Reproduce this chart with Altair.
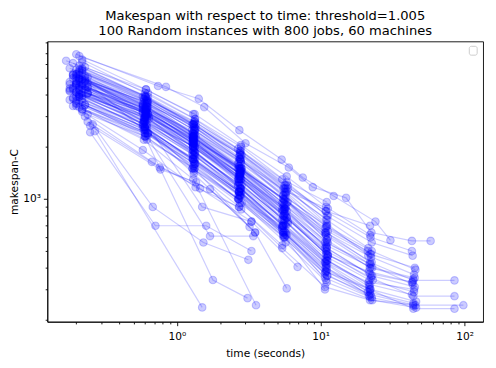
import altair as alt
import pandas as pd

TITLE = ["Makespan with respect to time: threshold=1.005",
         "100 Random instances with 800 jobs, 60 machines"]
X_TICKS = [0.2, 0.3, 0.4, 0.5, 0.6, 0.7, 0.8, 0.9, 1, 2, 3, 4, 5, 6, 7, 8, 9,
           10, 20, 30, 40, 50, 60, 70, 80, 90, 100]
Y_TICKS = [200, 300, 400, 500, 600, 700, 800, 900, 1000,
           2000, 3000, 4000, 5000, 6000, 7000, 8000]

TIMES = [
    [0.20, 0.74, 1.42, 2.72, 5.35, 7.5, 12.3, 24.0, 30.5],
    [0.21, 0.84, 1.55, 3.0, 6.0, 8.8, 15.0, 22.5, 43.0, 58.0],
    [0.22, 0.61, 1.31, 2.74, 5.6, 10.9, 22.0, 44.0, 85.0],
    [0.19, 0.60, 1.30, 2.70, 5.5, 11.0, 22.4, 44.0, 85.0],
    [0.21, 0.62, 1.33, 2.78, 5.7, 10.8, 21.8, 44.0, 85.0],
    [0.20, 0.59, 1.29, 2.76, 5.5, 11.1, 22.2, 45.5, 98.0],
    [0.23, 0.63, 1.34, 2.80, 5.8, 11.0, 22.6, 43.5],
    [0.18, 0.58, 1.28, 2.68, 5.4, 10.7, 21.5, 44.5],
    [0.21, 0.60, 1.31, 2.72, 5.6, 11.2, 22.0, 45.0],
    [0.24, 0.61, 1.30, 2.66, 5.5, 10.9, 21.2, 44.0],
    [0.20, 0.62, 1.32, 2.82, 5.7, 11.0, 22.8, 46.0],
    [0.22, 0.59, 1.33, 2.74, 5.9, 10.8, 22.2, 43.0],
    [0.19, 0.63, 1.29, 2.70, 5.5, 11.1, 21.8, 44.5],
    [0.21, 0.60, 1.35, 2.78, 5.6, 11.0, 22.4, 45.0],
    [0.23, 0.61, 1.31, 2.72, 5.4, 10.7, 22.0, 44.0],
    [0.20, 0.58, 1.30, 2.68, 5.8, 11.2, 21.6, 43.5],
    [0.22, 0.62, 1.28, 2.80, 5.5, 10.9, 22.6, 45.5],
    [0.19, 0.60, 1.32, 2.74, 5.7, 11.0, 21.9, 44.0],
    [0.21, 0.64, 1.34, 2.76, 5.6, 10.8, 22.2, 46.0],
    [0.24, 0.59, 1.30, 2.70, 5.5, 11.1, 22.0, 43.0],
    [0.20, 0.61, 1.31, 2.82, 5.9, 11.0, 21.4, 44.5],
    [0.18, 0.60, 1.29, 2.72, 5.4, 10.9, 22.8, 45.0],
    [0.22, 0.62, 1.33, 2.66, 5.6, 10.7, 22.0, 44.0],
    [0.21, 0.58, 1.30, 2.76, 5.7, 11.2, 21.8, 43.5],
    [0.20, 0.63, 1.32, 2.74, 5.5, 11.0, 22.4],
    [0.22, 0.60, 1.30, 2.70, 5.6, 10.8, 21.6],
    [0.19, 0.61, 1.34, 2.78, 5.7, 11.1, 22.0],
    [0.21, 0.59, 1.29, 2.72, 5.4, 10.9, 22.6],
    [0.23, 0.62, 1.31, 2.80, 5.8, 11.0, 21.8],
    [0.20, 0.60, 1.33, 2.68, 5.5, 10.7, 22.2],
    [0.18, 0.58, 1.30, 2.76, 5.6, 11.2, 23.0],
    [0.22, 0.61, 1.28, 2.74, 5.7, 10.9, 21.4],
    [0.21, 0.63, 1.32, 2.70, 5.5, 11.0, 22.0],
    [0.24, 0.60, 1.31, 2.82, 5.9, 10.8, 22.4],
    [0.19, 0.62, 1.35, 2.72, 5.6, 11.1, 21.8],
    [0.20, 0.59, 1.30, 2.66, 5.4, 11.0, 22.6],
    [0.22, 0.61, 1.33, 2.78, 5.8, 10.9, 22.0],
    [0.21, 0.60, 1.29, 2.74, 5.5, 10.7, 21.6],
    [0.23, 0.64, 1.31, 2.70, 5.7, 11.2, 22.2],
    [0.20, 0.58, 1.32, 2.80, 5.6, 11.0, 22.8],
    [0.18, 0.62, 1.30, 2.72, 5.5, 10.8, 21.2],
    [0.21, 0.60, 1.31, 2.76, 5.6, 10.9, 22.0],
    [0.20, 0.61, 1.30, 2.74, 5.6, 11.0],
    [0.22, 0.59, 1.32, 2.70, 5.5, 10.8],
    [0.19, 0.62, 1.34, 2.78, 5.7, 11.1],
    [0.21, 0.60, 1.29, 2.72, 5.4, 10.9],
    [0.23, 0.63, 1.31, 2.80, 5.8, 11.2],
    [0.20, 0.58, 1.33, 2.66, 5.5, 10.7],
    [0.18, 0.61, 1.30, 2.76, 5.6, 11.0],
    [0.22, 0.60, 1.32, 2.74, 5.7, 10.9],
    [0.21, 0.62, 1.35, 2.70, 5.5, 11.1],
    [0.24, 0.59, 1.28, 2.82, 5.9, 10.8],
    [0.20, 0.61, 1.31, 2.72, 5.4, 11.0],
    [0.19, 0.63, 1.30, 2.68, 5.6, 10.7],
    [0.22, 0.60, 1.33, 2.78, 5.7, 11.2],
    [0.21, 0.58, 1.29, 2.74, 5.5, 10.9],
    [0.23, 0.62, 1.32, 2.70, 5.8, 11.0],
    [0.20, 0.61, 1.30, 2.76, 5.6, 10.8],
    [0.18, 0.60, 1.34, 2.80, 5.5, 11.1],
    [0.22, 0.59, 1.31, 2.72, 5.7, 10.9],
    [0.21, 0.63, 1.33, 2.66, 5.4, 11.0],
    [0.20, 0.60, 1.30, 2.74, 5.6, 10.7],
    [0.24, 0.62, 1.29, 2.78, 5.8, 11.2],
    [0.20, 0.61, 1.31, 2.72, 5.6],
    [0.22, 0.59, 1.30, 2.76, 5.5],
    [0.19, 0.62, 1.33, 2.70, 5.7],
    [0.21, 0.60, 1.29, 2.80, 5.4],
    [0.23, 0.58, 1.32, 2.74, 5.8],
    [0.20, 0.63, 1.34, 2.68, 5.5],
    [0.18, 0.61, 1.30, 2.78, 5.6],
    [0.22, 0.60, 1.31, 2.72, 5.7],
    [0.21, 0.62, 1.28, 2.66, 5.5],
    [0.24, 0.59, 1.33, 2.76, 5.9],
    [0.20, 0.61, 1.30, 2.82, 5.6],
    [0.19, 0.60, 1.32, 2.70, 5.4],
    [0.22, 0.63, 1.35, 2.74, 5.7],
    [0.21, 0.58, 1.29, 2.78, 5.5],
    [0.26, 0.68, 1.53, 3.14],
    [0.25, 0.71, 1.60, 3.3],
    [0.27, 1.50],
    [0.24, 0.60, 1.78, 3.1],
    [0.21, 0.62, 1.50, 3.3],
    [0.20, 0.60, 1.70, 3.4],
    [0.22, 0.59, 1.30, 3.55],
    [0.23, 0.61, 1.32, 3.2],
    [0.21, 0.58, 1.31, 3.5],
    [0.22, 0.58, 1.35, 2.70, 5.4],
    [0.23, 0.67, 1.45, 3.3, 6.9],
    [0.24, 0.76, 1.70, 3.5, 5.8],
    [0.25, 0.77, 1.36, 2.8],
    [0.20, 0.61, 1.31, 2.74],
    [0.22, 0.60, 1.29, 2.70],
    [0.19, 0.62, 1.33, 2.78],
    [0.21, 0.59, 1.30, 2.66],
    [0.23, 0.63, 1.32, 2.80],
    [0.20, 0.60, 1.34, 2.72],
    [0.17, 0.61, 1.30],
    [0.22, 0.58, 1.31],
    [0.21, 0.62, 1.28, 2.76],
    [0.24, 0.60, 1.33, 2.74, 5.5, 10.9, 22.0, 43.0],
]

MAKESPANS = [
    [6870, 4500, 3800, 2500, 1690, 1330, 1040, 740, 577],
    [6700, 4450, 3400, 2100, 1520, 1170, 1015, 640, 572, 572],
    [4900, 3500, 2700, 1800, 1100, 640, 430, 338, 338],
    [4300, 3300, 2200, 1300, 800, 480, 350, 274, 274],
    [5200, 2900, 1900, 1150, 640, 400, 300, 232, 232],
    [3900, 2600, 1700, 1050, 620, 360, 280, 243, 243],
    [5800, 4100, 2900, 2000, 1250, 800, 560, 470],
    [4600, 2700, 1500, 1000, 700, 430, 330, 300],
    [5000, 3600, 2400, 1500, 1000, 650, 480, 400],
    [4100, 3000, 1900, 1200, 700, 420, 290, 250],
    [3700, 2400, 1600, 950, 560, 330, 260, 235],
    [5500, 3800, 2800, 1900, 1200, 850, 600, 500],
    [4400, 3100, 2100, 1250, 760, 460, 340, 290],
    [4800, 3400, 2300, 1450, 880, 520, 360, 310],
    [3500, 2300, 1450, 900, 520, 310, 260, 245],
    [5300, 3200, 2000, 1300, 780, 470, 380, 330],
    [4500, 3300, 2500, 1600, 1050, 700, 500, 390],
    [6100, 3900, 2600, 1700, 1000, 580, 400, 345],
    [4000, 2900, 1800, 1100, 650, 380, 300, 255],
    [4700, 2500, 1700, 1100, 720, 440, 320, 280],
    [5600, 3700, 2600, 1800, 1150, 720, 470, 365],
    [4200, 3000, 2200, 1400, 850, 540, 400, 350],
    [3300, 2200, 1500, 1000, 600, 350, 270, 240],
    [4900, 3500, 2300, 1450, 900, 600, 420, 320],
    [5100, 3600, 2500, 1700, 1050, 690, 480],
    [4600, 3100, 2000, 1250, 750, 450, 320],
    [3800, 2700, 1850, 1150, 700, 420, 300],
    [5400, 3700, 2400, 1550, 950, 620, 430],
    [4300, 2600, 1650, 1050, 620, 380, 280],
    [4000, 2800, 2000, 1350, 900, 560, 420],
    [4750, 3400, 2300, 1400, 820, 480, 340],
    [5700, 3900, 2700, 1850, 1150, 760, 520],
    [3600, 2400, 1550, 1000, 640, 390, 290],
    [4450, 3200, 2200, 1500, 960, 640, 460],
    [5000, 3300, 2100, 1300, 760, 440, 310],
    [4150, 2900, 1900, 1200, 700, 400, 270],
    [6400, 4300, 3100, 2050, 1350, 900, 620],
    [3400, 2300, 1500, 950, 600, 370, 275],
    [4850, 3000, 2100, 1400, 880, 560, 400],
    [5250, 3550, 2350, 1500, 880, 520, 360],
    [4350, 3150, 2250, 1500, 1000, 680, 500],
    [5900, 3950, 2750, 1850, 1200, 850, 700],
    [4700, 3300, 2300, 1500, 930, 560],
    [4100, 2850, 1800, 1100, 640, 380],
    [5300, 3700, 2600, 1700, 1100, 700],
    [3900, 2600, 1700, 1100, 680, 410],
    [4500, 3100, 2050, 1300, 780, 470],
    [5000, 3450, 2400, 1600, 1000, 640],
    [4250, 3050, 2100, 1350, 820, 500],
    [3650, 2500, 1650, 1050, 620, 340],
    [5500, 3800, 2700, 1750, 1150, 760],
    [4400, 2800, 1850, 1200, 720, 430],
    [4800, 3350, 2250, 1450, 880, 530],
    [3450, 2350, 1550, 1000, 600, 300],
    [6200, 4100, 2900, 1900, 1200, 800],
    [4050, 2750, 1800, 1150, 700, 440],
    [5150, 3500, 2350, 1550, 950, 580],
    [4600, 3200, 2250, 1500, 980, 620],
    [3750, 2550, 1700, 1100, 650, 360],
    [4950, 3300, 2150, 1350, 800, 480],
    [5600, 3900, 2800, 1950, 1300, 960],
    [4150, 2950, 2050, 1350, 860, 520],
    [5050, 3400, 2400, 1650, 1100, 880],
    [4500, 3100, 2100, 1350, 800],
    [3950, 2700, 1800, 1150, 700],
    [5200, 3600, 2500, 1650, 1050],
    [4250, 3000, 2000, 1300, 760],
    [4800, 3300, 2200, 1400, 850],
    [3550, 2400, 1600, 1050, 620],
    [5700, 3900, 2700, 1800, 1150],
    [4400, 2900, 1900, 1200, 720],
    [4950, 3400, 2300, 1500, 950],
    [4100, 2800, 1850, 1200, 740],
    [4650, 3200, 2200, 1450, 900],
    [3850, 2600, 1700, 1100, 660],
    [5350, 3700, 2550, 1700, 1080],
    [4550, 3150, 2150, 1400, 860],
    [2700, 900, 560, 445],
    [2430, 700, 700, 500],
    [2470, 236],
    [3080, 2300, 340, 267],
    [4000, 2700, 900, 740],
    [3600, 2400, 610, 610],
    [3300, 2200, 1300, 243],
    [3500, 2500, 1500, 690],
    [3900, 2600, 1400, 640],
    [3200, 1920, 1170, 900, 540],
    [3000, 1640, 1150, 740, 405],
    [2800, 1520, 1140, 640, 304],
    [2650, 1480, 1250, 870],
    [4600, 3150, 2150, 1400],
    [3800, 2600, 1700, 1100],
    [5200, 3600, 2500, 1650],
    [4300, 2950, 2000, 1300],
    [4950, 3400, 2300, 1500],
    [3450, 2400, 1600, 1050],
    [6300, 4300, 3100],
    [5600, 3900, 2700],
    [4450, 3000, 2100, 1400],
    [4050, 2800, 2000, 1300, 800, 500, 370, 330],
]

rows = []
for i, (ts, vs) in enumerate(zip(TIMES, MAKESPANS)):
    for j, (t, v) in enumerate(zip(ts, vs)):
        rows.append({"instance": i, "step": j, "time": t, "makespan": v})
df = pd.DataFrame(rows)

BLUE = "#0000ff"
FONT = "DejaVu Sans"

x_enc = alt.X(
    "time:Q",
    scale=alt.Scale(type="log", domain=[0.1259, 134.3], nice=False),
    axis=alt.Axis(
        values=X_TICKS,
        title="time (seconds)",
        labelExpr="datum.value == 1 ? '10⁰' : datum.value == 10 ? '10¹' : datum.value == 100 ? '10²' : ''",
        tickSize={"condition": {"test": "datum.value == 1 || datum.value == 10 || datum.value == 100", "value": 4}, "value": 2.2},
        labelPadding=5,
        titlePadding=7,
        labelOverlap=False,
        grid=False,
    ),
)
y_enc = alt.Y(
    "makespan:Q",
    scale=alt.Scale(type="log", domain=[195, 8150], nice=False),
    axis=alt.Axis(
        values=Y_TICKS,
        title="makespan-C",
        labelExpr="datum.value == 1000 ? '10³' : ''",
        tickSize={"condition": {"test": "datum.value == 1000", "value": 4}, "value": 2.2},
        labelPadding=3,
        titlePadding=3,
        labelOverlap=False,
        grid=False,
    ),
)

base = alt.Chart(df).encode(
    x=x_enc, y=y_enc,
    detail="instance:N",
    order="step:Q",
)

lines = base.mark_line(color=BLUE, opacity=0.2, strokeWidth=1.2)
points = base.mark_point(
    shape="circle", fill=BLUE, stroke=BLUE, fillOpacity=0.2,
    strokeOpacity=0.2, strokeWidth=1.1, size=60, opacity=1,
)

legend_box = alt.Chart(pd.DataFrame({"k": [0]})).mark_rect(
    fill="white", stroke="#cccccc", strokeWidth=1, cornerRadius=2
).encode(
    x=alt.value(429), x2=alt.value(437), y=alt.value(5), y2=alt.value(14)
)

chart = alt.layer(lines, points, legend_box).properties(
    width=443,
    height=285,
    background="white",
    title=alt.TitleParams(
        text=TITLE, fontSize=13.3, font=FONT, fontWeight="normal",
        color="black", anchor="middle", offset=0, lineHeight=15,
    ),
    padding={"left": 40, "top": 31, "right": 5, "bottom": 40},
    autosize=alt.AutoSizeParams(type="none"),
).configure_view(
    stroke="black", strokeWidth=0.9
).configure_axis(
    grid=False,
    labelFont=FONT, titleFont=FONT,
    labelFontSize=10.8, titleFontSize=10.8,
    titleFontWeight="normal",
    labelColor="black", titleColor="black",
    domainColor="black", tickColor="black",
    domainWidth=0.9, tickWidth=0.9,
)

chart.save("out.html", embed_options={"renderer": "svg", "actions": False})
